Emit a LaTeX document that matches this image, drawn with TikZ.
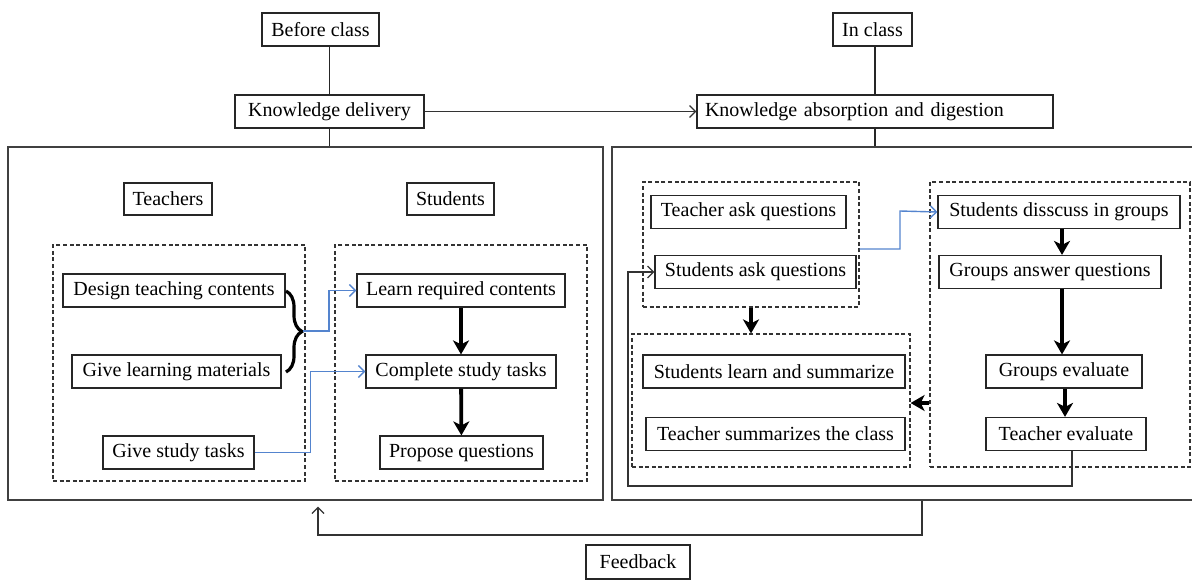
\documentclass[tikz,border=0pt]{standalone}
\usepackage{fontspec}
\setmainfont{Liberation Serif}
\usetikzlibrary{arrows.meta,decorations.pathreplacing,calc}
\definecolor{flowblue}{RGB}{84,132,206}
\tikzset{
    box/.style =    {rectangle,
                    draw=black!85,
                    line width=0.6pt,
                    text=black,
                    inner sep=0pt,
                    minimum height=16.5pt,
                    font=\fontsize{10}{12}\selectfont},
    part/.style =   {rectangle,
                    draw=black!75,
                    line width=0.7pt,
                    inner sep=0pt},
    group/.style =  {rectangle,
                    draw=black!80,
                    line width=0.6pt,
                    dash pattern=on 2pt off 1.3pt,
                    inner sep=0pt},
    link/.style =   {draw=black!85,
                    line width=0.6pt},
    thin/.style =   {draw=black!80,
                    line width=0.6pt,
                    -{Straight Barb[length=3pt,width=6pt]}},
    blue/.style =   {draw=flowblue,
                    line width=0.7pt,
                    -{Straight Barb[length=3pt,width=6pt]}},
    step arrow/.style = {draw=black,
                    line width=1.9pt,
                    -{Stealth[length=7pt,width=8pt,inset=2pt]}},
    brace/.style =  {decorate,
                    decoration={brace,amplitude=8pt},
                    line width=1.6pt}}

\begin{document}
\begin{tikzpicture}[x=0.5pt,y=-0.5pt]
    \useasboundingbox (0,0) rectangle (1192,579);

    \node[part, minimum width=297.5pt, minimum height=176.5pt] (before part) at (305.5,323.5) {};
    \node[part, minimum width=294pt,   minimum height=176.5pt] (class part)  at (906,323.5)   {};

    \node[box, minimum width=58.5pt]  (before) at (320.5,29.5)  {Before class};
    \node[box, minimum width=94.5pt]  (deliver) at (329.5,111.5) {Knowledge delivery};
    \node[box, minimum width=39.5pt]  (inclass) at (872.5,29.5)  {In class};
    \node[box, text width=170pt, inner xsep=4pt, align=left] (absorb) at (875,111.5)
                                      {Knowledge absorption and digestion};
    \node[box, minimum width=52pt, minimum height=17pt] (feedback) at (638,562) {Feedback};

    \path[link] (deliver.north) -- (deliver.north |- before.south)
                (deliver.south) -- (deliver.south |- before part.north)
                (absorb.north)  -- (absorb.north |- inclass.south)
                (absorb.south)  -- (absorb.south |- class part.north);
    \draw[thin] (deliver) -- (absorb);

    % before class
    \node[box, minimum width=44pt,   minimum height=16pt] (teachers) at (168,199)   {Teachers};
    \node[box, minimum width=43.5pt, minimum height=16pt] (students) at (450.5,199) {Students};
    \node[group, minimum width=126pt, minimum height=118pt] (teach group) at (179,363) {};
    \node[group, minimum width=126pt, minimum height=118pt] (learn group) at (461,363) {};

    \node[box, minimum width=111pt]   (design)   at (174,290.5)   {Design teaching contents};
    \node[box, minimum width=104.5pt] (material) at (176.5,371.5) {Give learning materials};
    \node[box, minimum width=75.5pt]  (tasks)    at (178.5,452.5) {Give study tasks};
    \node[box, minimum width=104pt]   (learn)    at (461,290.5)   {Learn required contents};
    \node[box, minimum width=95pt]    (complete) at (461,371.5)   {Complete study tasks};
    \node[box, minimum width=81.5pt]  (propose)  at (461.5,452.5) {Propose questions};

    \draw[brace] (286,291) -- (286,372);
    \coordinate (tip) at (303,331);
    \draw[blue] (tip) -- ++(26,0) |- (learn.west);
    \draw[blue] (tasks.east) -- ++(56,0) |- (complete.west);
    \draw[step arrow] (learn) -- (complete);
    \draw[step arrow] (complete) -- (propose);

    % in class
    \node[group, minimum width=108pt, minimum height=62.5pt] (ask group)  at (751,244.5)  {};
    \node[group, minimum width=130pt, minimum height=142.5pt] (talk group) at (1060,324.5) {};
    \node[group, minimum width=139pt, minimum height=66.5pt] (sum group)  at (771,400.5)  {};

    \node[box, minimum width=97.5pt]  (tq)     at (748.5,212) {Teacher ask questions};
    \node[box, minimum width=100.5pt] (sq)     at (755.5,272) {Students ask questions};
    \node[box, minimum width=121pt]   (discuss) at (1059,212) {Students disscuss in groups};
    \node[box, minimum width=111pt]   (answer) at (1050,272)  {Groups answer questions};
    \node[box, minimum width=78pt]    (geval)  at (1064,371.5) {Groups evaluate};
    \node[box, minimum width=80pt]    (teval)  at (1066,434)  {Teacher evaluate};
    \node[box, minimum width=131pt]   (summ)   at (774,371.5) {Students learn and summarize};
    \node[box, minimum width=129.5pt] (tsumm)  at (775.5,434) {Teacher summarizes the class};

    \draw[blue] (ask group.east |- 0,249) -| (900,211) -- (discuss.west);
    \draw[step arrow] (discuss.south -| 1062,0) -- (answer.north -| 1062,0);
    \draw[step arrow] (answer.south -| 1062,0) -- (geval.north -| 1062,0);
    \draw[step arrow] (geval.south -| 1065,0) -- (teval.north -| 1065,0);
    \draw[step arrow] (ask group.south) -- (ask group.south |- sum group.north);
    \draw[step arrow] (talk group.west |- 0,403) -- (sum group.east |- 0,403);

    \coordinate (loop) at (628,486);
    \draw[thin] (teval.south -| 1072,0) |- (loop) |- (sq.west);

    \coordinate (fb right) at (922,535);
    \coordinate (fb left)  at (318,535);
    \draw[thin] (fb right |- class part.south) -- (fb right) -- (fb left)
                -- ([yshift=-3pt]fb left |- before part.south);
\end{tikzpicture}
\end{document}
